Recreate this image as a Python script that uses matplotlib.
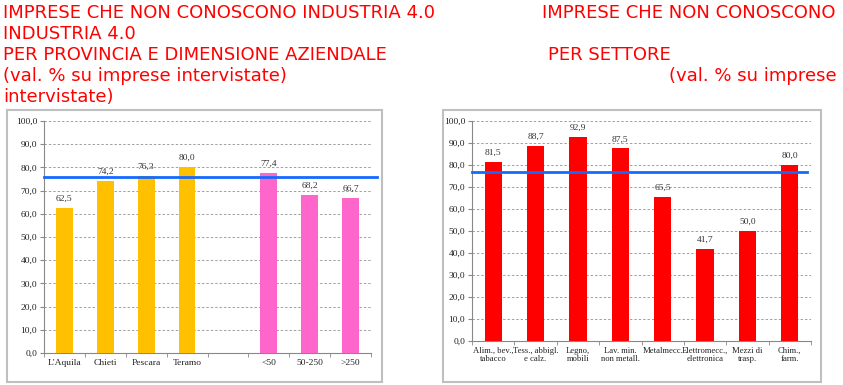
import matplotlib
matplotlib.use("Agg")
import matplotlib.pyplot as plt
from matplotlib.patches import Rectangle
from matplotlib import font_manager

# data
prov_labels = ["L'Aquila", "Chieti", "Pescara", "Teramo", "", "<50", "50-250", ">250"]
prov_values = [62.5, 74.2, 76.3, 80.0, None, 77.4, 68.2, 66.7]
prov_colors = ["#FFC000"] * 4 + [None] + ["#FF66CC"] * 3
prov_avg = 75.9

sett_labels = ["Alim., bev.,\ntabacco", "Tess., abbigl.\ne calz.", "Legno,\nmobili",
               "Lav. min.\nnon metall.", "Metalmecc.", "Elettromecc.,\nelettronica",
               "Mezzi di\ntrasp.", "Chim.,\nfarm."]
sett_values = [81.5, 88.7, 92.9, 87.5, 65.5, 41.7, 50.0, 80.0]
sett_avg = 76.8

yticks = list(range(0, 101, 10))

names = {f.name for f in font_manager.fontManager.ttflist}
title_font = [f for f in ["Liberation Sans Narrow", "DejaVu Sans"] if f in names]
serif = "Liberation Serif"

fig = plt.figure(figsize=(8.43, 3.85), dpi=100)

# grey frames around the two charts
for x0, w in [(7, 375), (443, 378)]:
    fig.patches.append(Rectangle((x0 / 843, 3 / 385), w / 843, 272 / 385,
                                 transform=fig.transFigure, fill=False,
                                 edgecolor="#BFBFBF", linewidth=1.5))

# titles
red = "#FF0000"
tsize = 13
fig.text(3 / 843, 1 - 13 / 385, "IMPRESE CHE NON CONOSCONO INDUSTRIA 4.0", color=red,
         fontsize=tsize, family=title_font, va="center")
fig.text(3 / 843, 1 - 34 / 385, "INDUSTRIA 4.0", color=red, fontsize=tsize,
         family=title_font, va="center")
fig.text(3 / 843, 1 - 55 / 385, "PER PROVINCIA E DIMENSIONE AZIENDALE", color=red,
         fontsize=tsize, family=title_font, va="center")
fig.text(3 / 843, 1 - 76 / 385, "(val. % su imprese intervistate)", color=red,
         fontsize=tsize, family=title_font, va="center")
fig.text(3 / 843, 1 - 97 / 385, "intervistate)", color=red, fontsize=tsize,
         family=title_font, va="center")
fig.text(836 / 843, 1 - 13 / 385, "IMPRESE CHE NON CONOSCONO", color=red,
         fontsize=tsize, family=title_font, va="center", ha="right")
fig.text(548 / 843, 1 - 55 / 385, "PER SETTORE", color=red, fontsize=tsize,
         family=title_font, va="center")
fig.text(837 / 843, 1 - 76 / 385, "(val. % su imprese", color=red, fontsize=tsize,
         family=title_font, va="center", ha="right")


def draw(ax, labels, values, colors, avg, line_x1, xsize):
    n = len(labels)
    xs = list(range(n))
    for x, v, c in zip(xs, values, colors):
        if v is None:
            continue
        ax.bar(x, v, width=0.41, color=c, zorder=3)
        ax.text(x, v + 2.3, f"{v:.1f}".replace(".", ","), ha="center", va="bottom",
                fontsize=6.8, family=serif, color="#333333", zorder=5)
    ax.plot([-0.5, line_x1], [avg, avg], color="#1469FF", linewidth=2, zorder=4,
            clip_on=False)
    ax.set_xlim(-0.5, n - 0.5)
    ax.set_ylim(0, 100)
    ax.set_yticks(yticks)
    ax.set_yticklabels([f"{t:.1f}".replace(".", ",") for t in yticks],
                       family=serif, fontsize=6.8, color="#222222")
    ax.set_xticks(xs)
    ax.set_xticklabels(labels, family=serif, fontsize=xsize, color="#222222",
                       linespacing=1.0)
    ax.set_xticks([i - 0.5 for i in range(n + 1)], minor=True)
    ax.tick_params(axis="x", which="major", length=0, pad=4)
    ax.tick_params(axis="x", which="minor", length=3, color="#888888")
    ax.tick_params(axis="y", length=3, color="#888888", pad=2)
    ax.yaxis.grid(True, linestyle=(0, (2.5, 2)), color="#A0A0A0", linewidth=0.7, zorder=0)
    ax.set_axisbelow(True)
    for s in ["top", "right"]:
        ax.spines[s].set_visible(False)
    for s in ["left", "bottom"]:
        ax.spines[s].set_color("#888888")
        ax.spines[s].set_linewidth(0.8)


ax1 = fig.add_axes([44 / 843, 32 / 385, 327 / 843, 232 / 385])
draw(ax1, prov_labels, prov_values, prov_colors, prov_avg, 7.5 + 6 / 41, 6.8)

ax2 = fig.add_axes([472 / 843, 44 / 385, 339 / 843, 220 / 385])
draw(ax2, sett_labels, sett_values, ["#FF0000"] * 8, sett_avg, 7.5 - 4 / 42.4, 6.2)

fig.savefig("out.png", dpi=100)
